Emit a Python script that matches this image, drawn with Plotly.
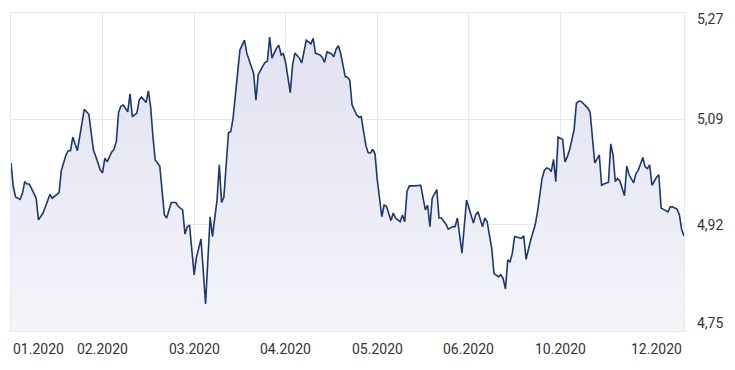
import plotly.graph_objects as go

# trading-day index (x) and exchange rate (y)
day_index = [
    0, 1, 2, 4, 5, 6, 7, 8, 10, 11, 12, 14, 17, 18, 21, 22, 24, 25, 26, 27,
    29, 30, 32, 34, 36, 37, 39, 40, 41, 42, 44, 45, 46, 47, 48,
    49, 51, 52, 53, 55, 56, 57, 59, 60, 61, 62, 63, 65, 66, 67, 68, 70, 72, 73, 75,
    76, 77, 78, 80, 81, 83, 85, 86, 87, 88, 90, 91, 92, 93, 95, 96, 97,
    100, 102, 103, 104, 106, 107, 108, 110, 111, 112, 113, 114, 116, 117, 118, 119, 120, 122, 123, 124,
    126, 127, 128, 129, 131, 132, 133, 135, 136, 137, 138, 140, 141, 142, 143, 144, 146, 147, 148, 149,
    151, 152, 153, 155, 156, 157, 158, 159, 160, 162, 163, 164, 166, 167, 168, 170, 171, 172, 173, 174,
    176, 178, 179, 181, 182, 183, 184, 186, 187, 188, 190, 191, 193, 194, 195, 197, 199, 202, 203, 204,
    206, 207, 208, 210, 211, 213, 214, 215, 216, 217, 218, 219, 220, 222, 223, 224, 225, 227, 229, 230, 232,
    233, 234, 235, 236, 237, 238, 239, 241, 242, 243, 244, 246, 247, 248, 249, 250, 252, 253, 254, 255,
    257, 258, 259, 261, 262, 263, 264, 265, 266, 268, 269, 270, 272, 273, 274, 276, 277, 278, 279, 280,
    282, 283, 284, 286, 287, 288, 289, 291, 292, 293, 294,
]
rate = [
    5.022, 4.984, 4.967, 4.963, 4.973, 4.992, 4.988, 4.988, 4.973, 4.965, 4.930, 4.941, 4.971, 4.965, 4.974, 5.010, 5.035, 5.042, 5.042, 5.064,
    5.042, 5.065, 5.109, 5.101, 5.043, 5.033, 5.011, 5.006, 5.030, 5.024, 5.040, 5.044, 5.057, 5.104, 5.114,
    5.116, 5.105, 5.134, 5.097, 5.103, 5.124, 5.129, 5.120, 5.139, 5.113, 5.065, 5.027, 5.017, 4.973, 4.938, 4.933, 4.958, 4.958, 4.952, 4.946,
    4.907, 4.919, 4.921, 4.841, 4.869, 4.899, 4.794, 4.865, 4.935, 4.903, 4.962, 5.019, 4.958, 4.967, 5.071, 5.073, 5.094,
    5.205, 5.221, 5.200, 5.189, 5.167, 5.124, 5.165, 5.179, 5.185, 5.187, 5.226, 5.192, 5.208, 5.213, 5.197, 5.199, 5.184, 5.136, 5.181, 5.200,
    5.192, 5.184, 5.200, 5.221, 5.215, 5.224, 5.200, 5.197, 5.193, 5.185, 5.202, 5.199, 5.194, 5.206, 5.212, 5.200, 5.162, 5.161, 5.156, 5.116,
    5.100, 5.096, 5.097, 5.051, 5.039, 5.038, 5.044, 5.037, 4.995, 4.935, 4.954, 4.952, 4.929, 4.941, 4.933, 4.927, 4.938, 4.927, 4.976, 4.985,
    4.985, 4.986, 4.986, 4.946, 4.954, 4.919, 4.965, 4.979, 4.933, 4.933, 4.923, 4.915, 4.919, 4.919, 4.933, 4.876, 4.962, 4.925, 4.938, 4.943,
    4.919, 4.933, 4.927, 4.884, 4.843, 4.838, 4.841, 4.835, 4.818, 4.865, 4.862, 4.876, 4.903, 4.901, 4.900, 4.904, 4.866, 4.897, 4.922, 4.943, 4.997,
    5.010, 5.014, 5.013, 5.008, 5.028, 4.992, 5.064, 5.060, 5.024, 5.032, 5.043, 5.076, 5.119, 5.122, 5.122, 5.118, 5.111, 5.104, 5.065, 5.022,
    5.035, 4.986, 4.988, 4.991, 5.053, 5.035, 4.992, 4.997, 4.993, 4.969, 5.017, 5.003, 4.990, 5.005, 5.010, 5.031, 5.016, 5.013, 5.019, 4.986,
    4.999, 5.003, 4.949, 4.945, 4.943, 4.951, 4.951, 4.947, 4.938, 4.914, 4.904,
]
assert len(day_index) == len(rate)

month_ticks = [0, 40, 80, 120, 160, 200, 240, 294]
month_labels = ["01.2020", "02.2020", "03.2020", "04.2020", "05.2020", "06.2020", "10.2020", "12.2020"]
y_ticks = [4.75, 4.9217, 5.0933, 5.265]
y_labels = ["4,75", "4,92", "5,09", "5,27"]

FONT = "Roboto"
TEXT = "#333333"
GRID = "#e7e7ee"

fig = go.Figure()
fig.add_trace(go.Scatter(
    x=day_index, y=rate, mode="lines",
    line=dict(color="#1c386c", width=1.6),
    fill="tozeroy",
    fillgradient=dict(
        type="vertical",
        start=y_ticks[0], stop=y_ticks[-1],
        colorscale=[[0, "rgba(244,244,250,1)"], [1, "rgba(224,224,240,1)"]],
    ),
    hoverinfo="skip",
))

annotations = []
n = len(month_ticks)
for i, (t, lab) in enumerate(zip(month_ticks, month_labels)):
    anchor = "left" if i == 0 else ("right" if i == n - 1 else "center")
    annotations.append(dict(
        x=t, y=0, xref="x", yref="paper", text=lab, showarrow=False,
        xanchor=anchor, yanchor="top", yshift=-8,
        font=dict(family=FONT, size=14, color=TEXT),
    ))
m = len(y_ticks)
for i, (t, lab) in enumerate(zip(y_ticks, y_labels)):
    shift = 8 if i == 0 else (-6 if i == m - 1 else 0)
    annotations.append(dict(
        x=1, y=t, xref="paper", yref="y", text=lab, showarrow=False,
        xanchor="left", yanchor="middle", xshift=11, yshift=shift,
        font=dict(family=FONT, size=14, color=TEXT),
    ))

fig.update_layout(
    width=735, height=370,
    margin=dict(l=11, r=51, t=13, b=39),
    paper_bgcolor="white", plot_bgcolor="white",
    showlegend=False,
    annotations=annotations,
    xaxis=dict(
        range=[month_ticks[0], month_ticks[-1]],
        tickmode="array", tickvals=month_ticks, showticklabels=False,
        showgrid=True, gridcolor=GRID, gridwidth=1, zeroline=False,
        showline=True, linecolor=GRID, linewidth=1, mirror=True, ticks="",
    ),
    yaxis=dict(
        range=[y_ticks[0], y_ticks[-1]],
        tickmode="array", tickvals=y_ticks, showticklabels=False,
        showgrid=True, gridcolor=GRID, gridwidth=1, zeroline=False,
        showline=True, linecolor=GRID, linewidth=1, mirror=True, ticks="",
    ),
)

fig.write_html(
    "out.html",
    config={"displayModeBar": False, "staticPlot": True},
    post_script="document.body.style.margin='0';document.body.style.overflow='hidden';",
)
